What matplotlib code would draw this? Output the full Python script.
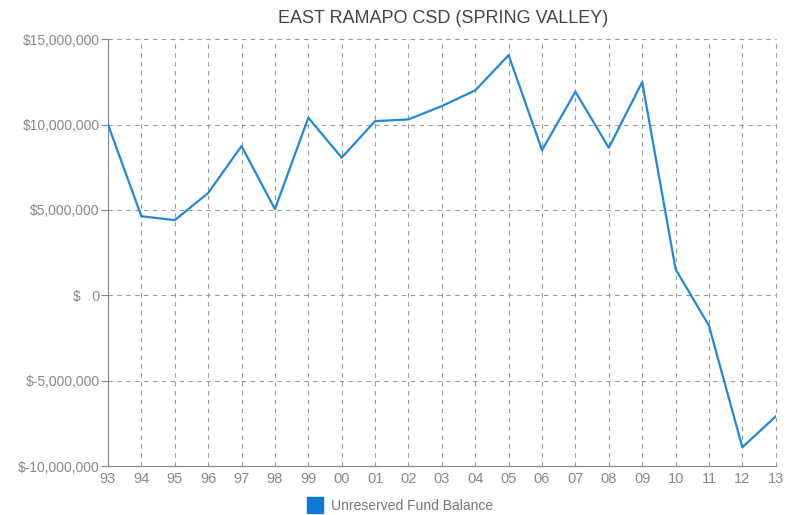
import matplotlib.pyplot as plt
from matplotlib.lines import Line2D

plt.rcParams['font.family'] = ['Liberation Sans', 'DejaVu Sans']

years = ['93', '94', '95', '96', '97', '98', '99', '00', '01', '02', '03',
         '04', '05', '06', '07', '08', '09', '10', '11', '12', '13']
balance = [10.0, 4.63, 4.40, 5.99, 8.74, 5.04, 10.4, 8.06, 10.2, 10.3, 11.08,
           12.0, 14.06, 8.5, 11.92, 8.64, 12.49, 1.53, -1.78, -8.9, -7.09]
balance = [v * 1e6 for v in balance]

y_ticks = [-10e6, -5e6, 0, 5e6, 10e6, 15e6]
y_labels = ['$-10,000,000', '$-5,000,000', '$   0', '$5,000,000',
            '$10,000,000', '$15,000,000']

fig = plt.figure(figsize=(7.94, 5.15), dpi=100)
ax = fig.add_axes([0.136, 0.095, 0.841, 0.829])

x = list(range(len(years)))
ax.plot(x, balance, color='#2089d9', linewidth=1.6, zorder=3)

ax.set_xlim(0, len(years) - 1)
ax.set_ylim(-10e6, 15e6)
ax.set_xticks(x)
ax.set_xticklabels(years)
ax.set_yticks(y_ticks)
ax.set_yticklabels(y_labels)

ax.grid(True, color='#9a9a9a', linestyle=(0, (4, 4)), linewidth=0.8)
for gl in ax.get_xgridlines() + ax.get_ygridlines():
    gl.set_clip_on(False)
for s in ['top', 'right']:
    ax.spines[s].set_visible(False)
for s in ['left', 'bottom']:
    ax.spines[s].set_color('#888888')
ax.tick_params(axis='both', colors='#888888', labelcolor='#888888', labelsize=10)
ax.tick_params(axis='x', length=0, pad=4, labelsize=10.5)
ax.tick_params(axis='y', length=5, pad=1)

fig.text(0.558, 0.965, 'EAST RAMAPO CSD (SPRING VALLEY)', ha='center', va='center',
         fontsize=13, color='#444444')

handle = Line2D([], [], marker='s', color='none', markerfacecolor='#0b7ad6',
                markeredgecolor='#0b7ad6', markersize=11)
fig.legend([handle], ['Unreserved Fund Balance'], loc='center',
           bbox_to_anchor=(0.5, 0.018), frameon=False, fontsize=10,
           labelcolor='#777777', handletextpad=0.2)

fig.savefig('out.png', dpi=100)
